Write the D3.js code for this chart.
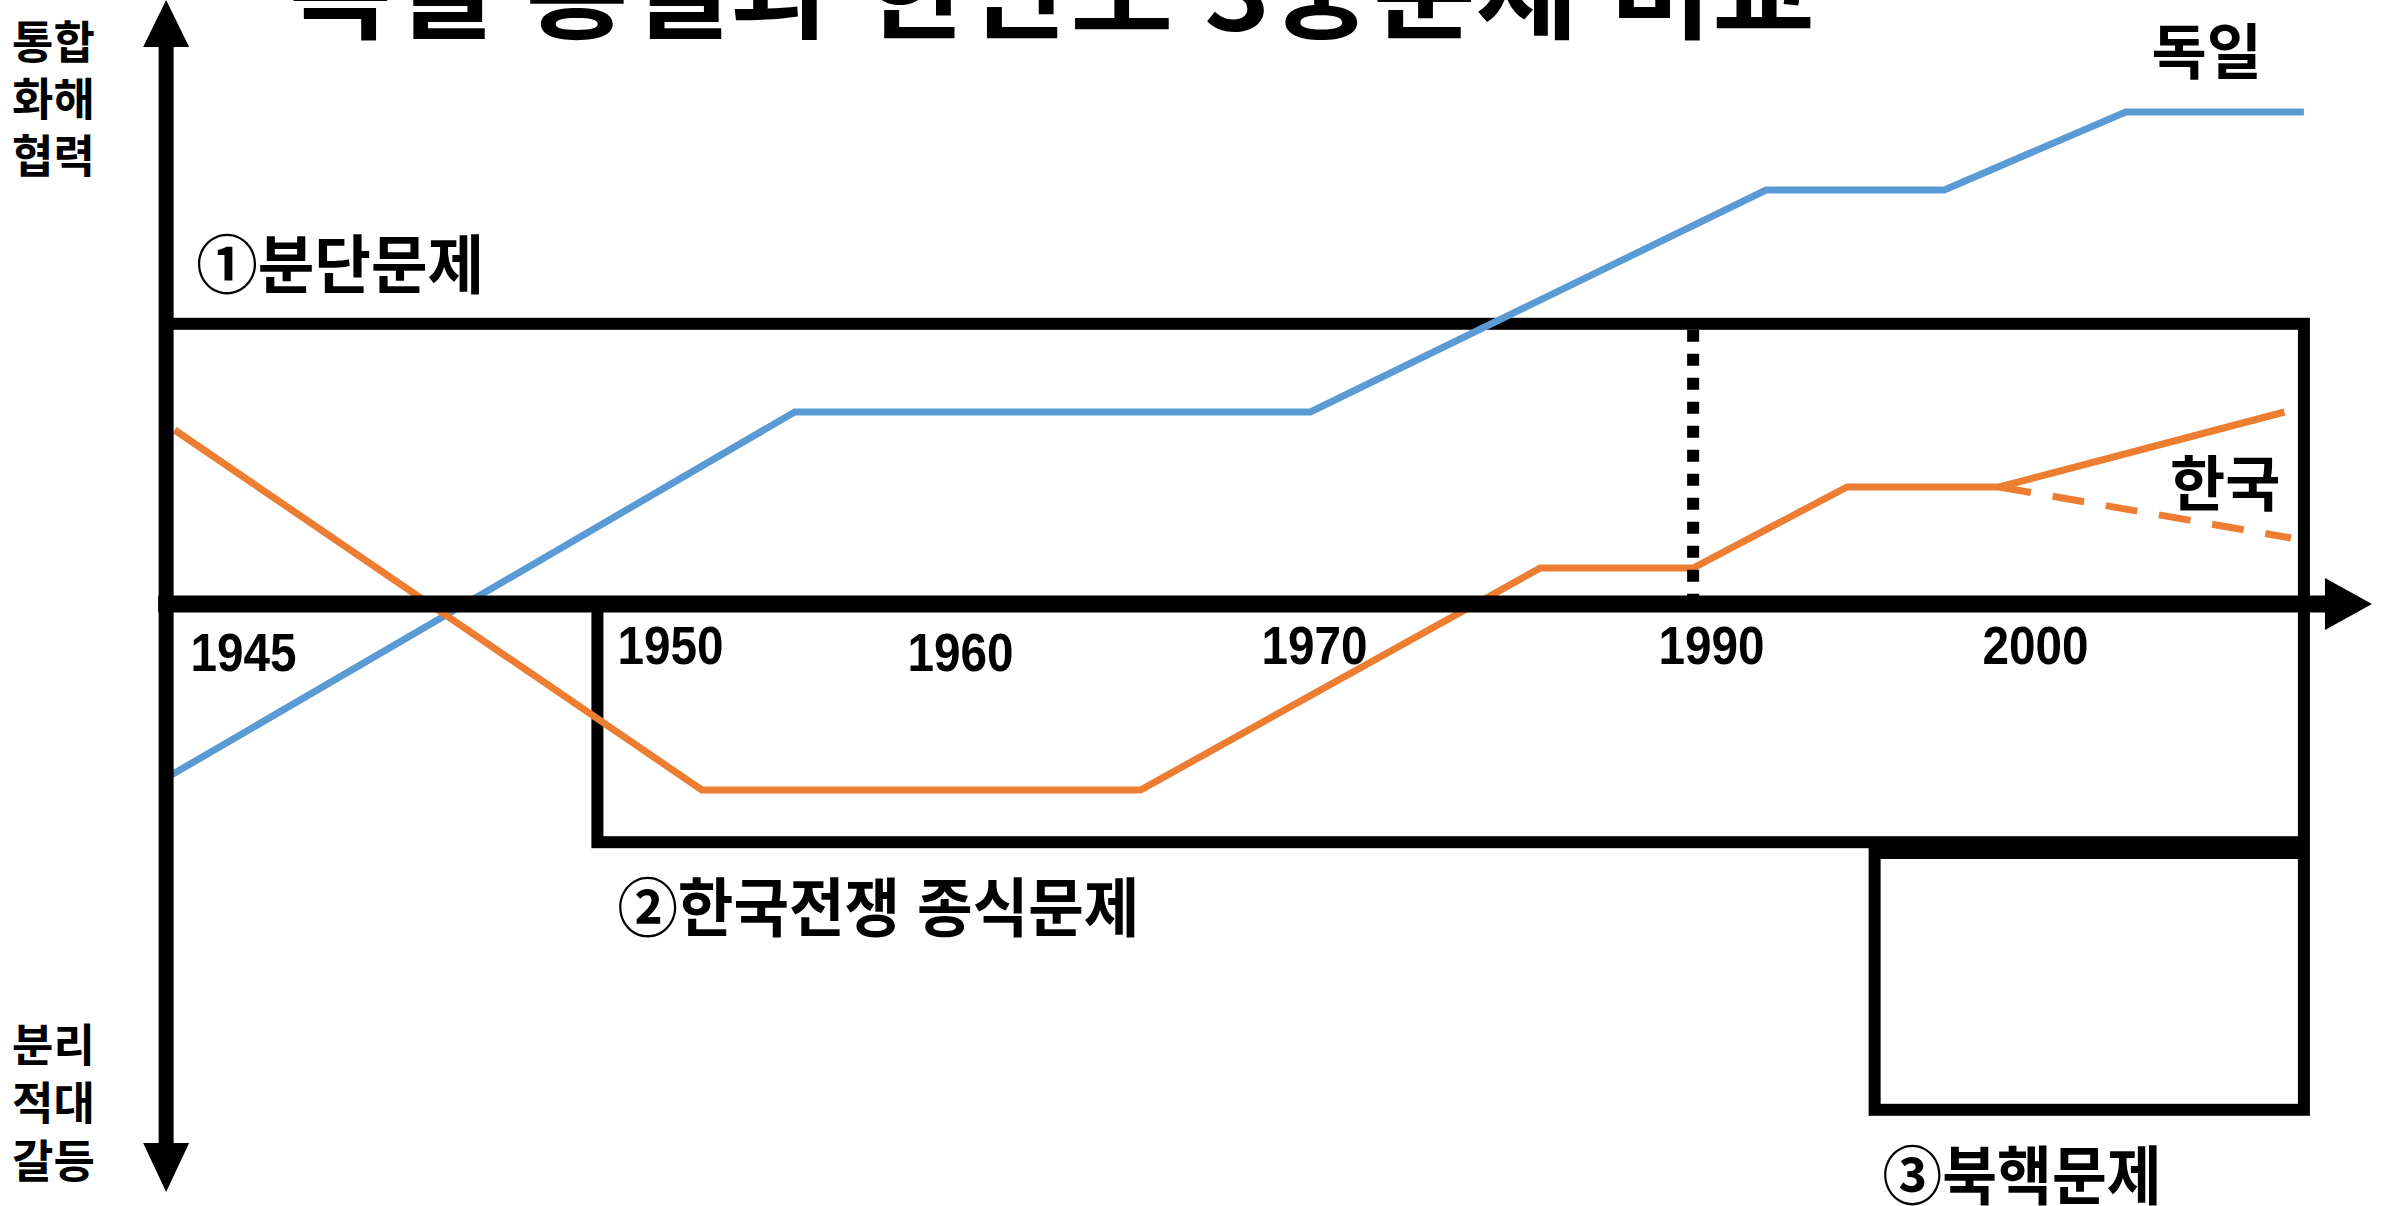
<!DOCTYPE html>
<html lang="ko">
<head>
<meta charset="utf-8">
<title>독일 통일과 한반도 3중문제 비교</title>
<script src="https://cdn.jsdelivr.net/npm/d3@7"></script>
<style>
  html, body { margin: 0; padding: 0; background: #fff; }
  svg { display: block; }
  text { font-family: "Noto Sans CJK KR", "Noto Sans", sans-serif; font-weight: 700; fill: #000; }
  .year text { font-family: "Liberation Sans", Arial, sans-serif; font-weight: 700; }
</style>
</head>
<body>
<div id="chart"></div>
<script>
// tick labels on the time axis
const tickYears = [1945, 1950, 1960, 1970, 1990, 2000];

// 독일 (blue): year, relation level (+ 통합/화해/협력, - 분리/적대/갈등)
const germanyYears  = [1944.1, 1954.3, 1969.9, 1991.7, 1997.2, 2002.8, 2008.3];
const germanyLevels = [-2.9, 3.2, 3.2, 6.9, 6.9, 8.2, 8.2];

// 한국 (orange)
const koreaYears  = [1944.2, 1951.1, 1965.1, 1981.4, 1989.1, 1994.2, 1998.9, 2007.7];
const koreaLevels = [2.9, -3.1, -3.1, 0.6, 0.6, 1.95, 1.95, 3.2];

// 한국, the other way (dashed)
const koreaAltYears  = [1998.9, 2007.9];
const koreaAltLevels = [1.95, 1.1];

// the three problems, drawn as boxes
const problemNames  = ["①분단문제", "②한국전쟁 종식문제", "③북핵문제"];
const problemStart  = [1944.1, 1949.15, 1995.05];
const problemEnd    = [2008.3, 2008.3, 2008.3];
const problemTop    = [4.67, 0, -4.15];
const problemBottom = [0, -3.97, -8.43];

const unificationYear = 1989.1;

const upLabels   = ["통합", "화해", "협력"];
const downLabels = ["분리", "적대", "갈등"];

const width = 2387, height = 1206;

const svg = d3.select("#chart").append("svg")
    .attr("width", width)
    .attr("height", height)
    .attr("viewBox", [0, 0, width, height]);

// hand drawn timeline, so the spacing between ticks is not even
const x = d3.scaleLinear()
    .domain(tickYears)
    .range([243, 670, 960, 1314, 1711, 2035]);

const y = d3.scaleLinear()
    .domain([-10, 10])
    .range([1204, 4]);

const x0 = x(problemStart[0]);
const y0 = y(0);

// title (cut off at the top in the original)
svg.append("text")
    .attr("x", 289)
    .attr("y", 31)
    .attr("font-size", 104)
    .attr("font-weight", 900)
    .attr("textLength", 1526)
    .attr("lengthAdjust", "spacingAndGlyphs")
    .text("독일 통일과 한반도 3중문제 비교");

// problem boxes
const boxes = svg.append("g")
    .attr("fill", "none")
    .attr("stroke", "#000")
    .attr("stroke-width", 12);

problemNames.forEach((name, i) => {
  boxes.append("rect")
      .attr("x", x(problemStart[i]))
      .attr("y", y(problemTop[i]))
      .attr("width", x(problemEnd[i]) - x(problemStart[i]))
      .attr("height", y(problemBottom[i]) - y(problemTop[i]));

  const above = i === 0;
  svg.append("text")
      .attr("x", x(problemStart[i]) + (i === 0 ? 30 : i === 1 ? 20 : 8))
      .attr("y", above ? y(problemTop[i]) - 36 : y(problemBottom[i]) + 89)
      .attr("font-size", 64)
      .attr("textLength", [288, 522, 279][i])
      .attr("lengthAdjust", "spacingAndGlyphs")
      .text(name);
});

// series
const line = d3.line()
    .x(d => x(d[0]))
    .y(d => y(d[1]));

svg.append("path")
    .datum(d3.zip(germanyYears, germanyLevels))
    .attr("fill", "none")
    .attr("stroke", "#5b9bd5")
    .attr("stroke-width", 7)
    .attr("d", line);

svg.append("path")
    .datum(d3.zip(koreaYears, koreaLevels))
    .attr("fill", "none")
    .attr("stroke", "#ed7d31")
    .attr("stroke-width", 7)
    .attr("d", line);

svg.append("path")
    .datum(d3.zip(koreaAltYears, koreaAltLevels))
    .attr("fill", "none")
    .attr("stroke", "#ed7d31")
    .attr("stroke-width", 7)
    .attr("stroke-dasharray", "32,22")
    .attr("d", line);

// series labels
const gLast = germanyYears.length - 1;
svg.append("text")
    .attr("x", x(germanyYears[gLast]) - 42)
    .attr("y", y(germanyLevels[gLast]) - 38)
    .attr("text-anchor", "end")
    .attr("font-size", 60)
    .text("독일");

const kLast = koreaYears.length - 1;
svg.append("text")
    .attr("x", x(koreaYears[kLast]) - 4)
    .attr("y", y(koreaLevels[kLast]) + 94)
    .attr("text-anchor", "end")
    .attr("font-size", 60)
    .text("한국");

// axes: thick arrows
svg.append("line")
    .attr("x1", x0).attr("x2", x0)
    .attr("y1", 44).attr("y2", 1146)
    .attr("stroke", "#000")
    .attr("stroke-width", 15);

svg.append("path")
    .attr("d", `M${x0 - 23},47L${x0},0L${x0 + 23},47Z M${x0 - 23},1143L${x0},1192L${x0 + 23},1143Z`)
    .attr("fill", "#000");

svg.append("line")
    .attr("x1", x0 - 8).attr("x2", 2328)
    .attr("y1", y0).attr("y2", y0)
    .attr("stroke", "#000")
    .attr("stroke-width", 17);

svg.append("path")
    .attr("d", `M2325,${y0 - 26}L2372,${y0}L2325,${y0 + 26}Z`)
    .attr("fill", "#000");

// 1990 marker
svg.append("line")
    .attr("x1", x(unificationYear)).attr("x2", x(unificationYear))
    .attr("y1", y(problemTop[0]) + 6).attr("y2", y0)
    .attr("stroke", "#000")
    .attr("stroke-width", 12)
    .attr("stroke-dasharray", "12,12");

// year labels (1945 and 1960 sit a little lower in the original)
const lowered = new Set([1945, 1960]);
const xAxis = svg.append("g")
    .attr("class", "year")
    .attr("transform", `translate(0,${y0})`)
    .call(d3.axisBottom(x)
        .tickValues(tickYears)
        .tickFormat(d3.format("d"))
        .tickSize(0)
        .tickPadding(22));

xAxis.select(".domain").remove();
xAxis.selectAll("text")
    .attr("font-size", 53)
    .attr("fill", "#000")
    .attr("textLength", 106)
    .attr("lengthAdjust", "spacingAndGlyphs")
    .attr("y", d => lowered.has(d) ? 29 : 22);

// side labels
svg.append("g")
  .selectAll("text")
  .data(upLabels)
  .join("text")
    .attr("x", 12)
    .attr("y", (d, i) => 59 + i * 57)
    .attr("font-size", 45)
    .text(d => d);

svg.append("g")
  .selectAll("text")
  .data(downLabels)
  .join("text")
    .attr("x", 12)
    .attr("y", (d, i) => 1062 + i * 58)
    .attr("font-size", 45)
    .text(d => d);
</script>
</body>
</html>
